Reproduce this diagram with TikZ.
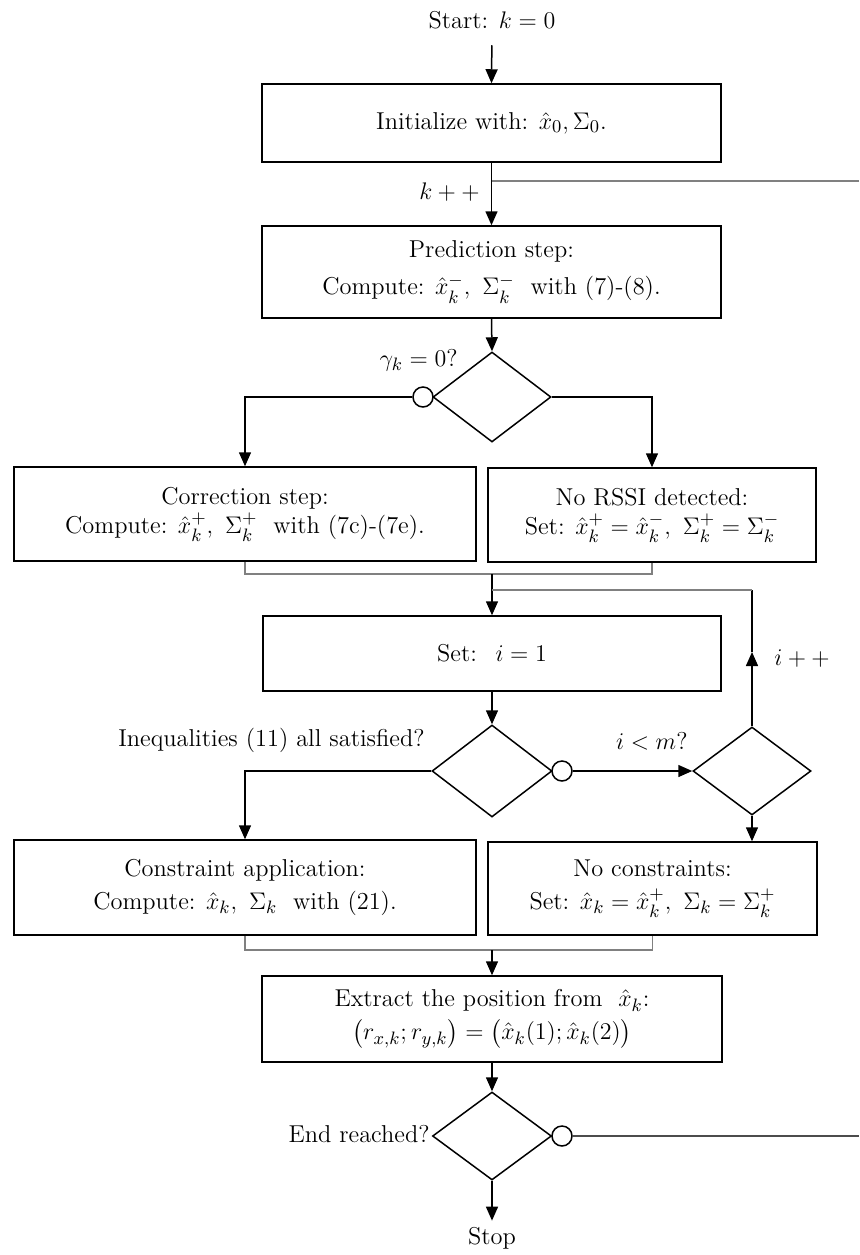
\documentclass[tikz,border=0pt]{standalone}
\usepackage{amsmath}
\usetikzlibrary{arrows.meta,shapes.geometric,calc}
\begin{document}
\begin{tikzpicture}[x=0.5pt,y=-0.5pt,
  every node/.style={font=\fontsize{12.2}{14.5}\selectfont},
  box/.style={draw, line width=0.75pt, inner sep=0pt, align=center},
  dia/.style={draw, diamond, line width=0.75pt, inner sep=0pt},
  circ/.style={draw, circle, minimum size=10pt, inner sep=0pt, line width=0.75pt},
  lbl/.style={inner sep=1pt},
  arr/.style={-{Triangle[length=7pt,width=6pt]}, line width=0.75pt},
  plain/.style={line width=0.75pt},
  gline/.style={draw=black!50, line width=0.9pt}]
\useasboundingbox (0,0) rectangle (859,1255);

% nodes
\node[lbl] (start) at (492,20) {Start: $k = 0$};
\node[box, minimum width=229.5pt, minimum height=39pt] (b1) at (491.5,123) {Initialize with: $\hat{x}_0, \Sigma_0$.};
\node[box, minimum width=229.5pt, minimum height=46pt] (b2) at (491.5,272) {Prediction step:\\[4pt] Compute: $\hat{x}_k^-,\ \Sigma_k^-$ \ with (7)-(8).};
\node[dia, minimum width=59pt, minimum height=45pt] (d1) at (492,397) {};
\node[circ] (c1) at (423,397) {};
\node[lbl, anchor=east] (l1) at (460,360) {$\gamma_k = 0$?};
\node[box, minimum width=231pt, minimum height=47pt] (b3) at (245,514) {Correction step:\\ Compute: $\hat{x}_k^+,\ \Sigma_k^+$ \ with (7c)-(7e).};
\node[box, minimum width=164pt, minimum height=47pt] (b4) at (652,515) {No RSSI detected:\\ Set: $\hat{x}_k^+ = \hat{x}_k^-,\ \Sigma_k^+ = \Sigma_k^-$};
\coordinate (m1) at (492,574);
\node[box, minimum width=229pt, minimum height=37.5pt] (b5) at (492,653.5) {Set: \ $i = 1$};
\node[dia, minimum width=60pt, minimum height=46pt] (d2) at (492,771) {};
\node[circ] (c2) at (562,771) {};
\node[lbl, anchor=east] (l2) at (427,740) {Inequalities (11) all satisfied?};
\node[dia, minimum width=59pt, minimum height=44pt] (d3) at (752,771) {};
\node[lbl, anchor=east] (l3) at (690,741) {$i < m$?};
\coordinate (lpa) at (752,652);
\coordinate (lpc) at (752,590);
\node[lbl, anchor=west] (l4) at (772,659) {$i + +$};
\node[box, minimum width=231pt, minimum height=47.5pt] (b6) at (245,887.5) {Constraint application:\\[2pt] Compute: $\hat{x}_k,\ \Sigma_k$ \ with (21).};
\node[box, minimum width=164.5pt, minimum height=46.5pt] (b7) at (652.5,888.5) {No constraints:\\[2pt] Set: $\hat{x}_k = \hat{x}_k^+,\ \Sigma_k = \Sigma_k^+$};
\coordinate (m2) at (492,950);
\node[box, minimum width=230pt, minimum height=43pt] (b8) at (492,1019) {Extract the position from \ $\hat{x}_k$:\\[2pt] $\bigl(r_{x,k}; r_{y,k}\bigr) = \bigl(\hat{x}_k(1); \hat{x}_k(2)\bigr)$};
\node[dia, minimum width=59.5pt, minimum height=44pt] (d4) at (492,1136) {};
\node[circ] (c4) at (562,1136) {};
\node[lbl, anchor=east] (l5) at (432,1134) {End reached?};
\node[lbl] (stop) at (492,1238) {Stop};
\coordinate (fb1) at (859,181);
\coordinate (fb2) at (859,1136);
\node[lbl, anchor=east] (l0) at (482,192) {$k + +$};

% connectors
\draw[arr, shorten <=7pt] (start.south) -- (b1.north);
\draw[arr] (b1.south) -- (b2.north);
\draw[gline] (fb1) -- (b1.south |- fb1);
\draw[arr] (b2.south) -- (d1.north);
\draw[arr] (c1.west) -| (b3.north);
\draw[arr] (d1.east) -| (b4.north);
\draw[gline] (b3.south) |- (m1) -| (b4.south);
\draw[arr] (m1) -- (b5.north);
\draw[arr] (b5.south) -- (d2.north);
\draw[arr] (d2.west) -| (b6.north);
\draw[arr] (c2.east) -- (d3.west);
\draw[arr] (d3.north) -- (lpa);
\draw[plain] (lpa) -- (lpc);
\draw[gline] (lpc) -- (lpc -| m1);
\draw[arr] (d3.south) -- (d3.south |- b7.north);
\draw[gline] (b6.south) |- (m2) -| (b7.south);
\draw[arr] (m2) -- (b8.north);
\draw[arr] (b8.south) -- (d4.north);
\draw[draw=black!70, line width=0.8pt] (c4.east) -- (fb2);
\draw[arr, shorten >=2pt] (d4.south) -- (stop.north);
\end{tikzpicture}
\end{document}
